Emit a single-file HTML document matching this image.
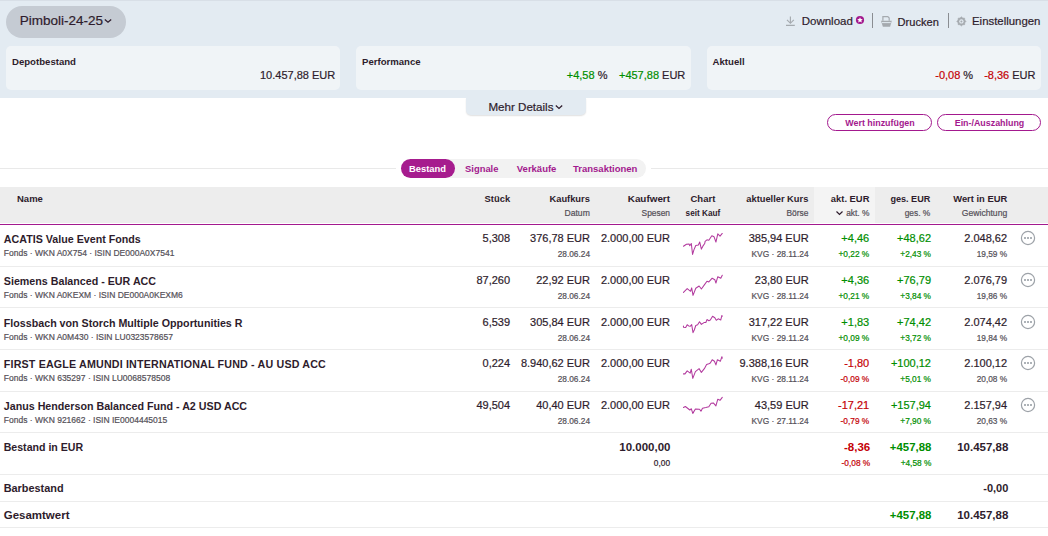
<!DOCTYPE html>
<html><head><meta charset="utf-8"><style>
html,body{margin:0;padding:0;width:1048px;height:536px;overflow:hidden;background:#fff;}
body{position:relative;font-family:"Liberation Sans",sans-serif;}
.t{position:absolute;white-space:pre;line-height:normal;}
.r{position:absolute;}
</style></head><body>
<div class="r" style="left:0px;top:0px;width:1048px;height:98px;background:#e3ebf2;"></div>
<div class="r" style="left:0px;top:0px;width:1048px;height:1px;background:#d8dfe7;"></div>
<div class="r" style="left:6px;top:6px;width:120px;height:32px;background:#c5cbd3;border-radius:16px;"></div>
<div class="t" style="top:13px;font-size:13.5px;font-weight:400;color:#2e1c2c;-webkit-text-stroke:0.2px currentColor;left:19.7px;">Pimboli-24-25</div>
<svg class="r" style="left:102.5px;top:17px" width="10" height="8" viewBox="0 0 10 8"><path d="M1.8 2.4 L5 5.2 L8.2 2.4" fill="none" stroke="#2e1c2c" stroke-width="1.3"/></svg>
<svg class="r" style="left:780px;top:12px" width="20" height="18" viewBox="0 0 20 18"><path d="M10.4 4.6 V11.2 M7 7.9 L10.4 11.3 L13.8 7.9 M6 13.4 H14.8" fill="none" stroke="#a5aaaf" stroke-width="1.15"/></svg>
<div class="t" style="top:15px;font-size:11.5px;font-weight:400;color:#2e1c2c;-webkit-text-stroke:0.2px currentColor;left:801.7px;">Download</div>
<svg class="r" style="left:855px;top:15px" width="10" height="10" viewBox="0 0 10 10"><circle cx="5" cy="5" r="4.1" fill="#a3198e"/><path d="M5 2.2 L5.8 4.1 L7.8 4.2 L6.3 5.5 L6.8 7.5 L5 6.4 L3.2 7.5 L3.7 5.5 L2.2 4.2 L4.2 4.1 Z" fill="#fff"/></svg>
<div class="r" style="left:872px;top:13px;width:1px;height:15px;background:#8a8d92;"></div>
<svg class="r" style="left:876px;top:12px" width="20" height="18" viewBox="0 0 20 18"><path d="M6.9 8.8 V4.6 H11.8 L13.2 6 V8.8" fill="none" stroke="#a5aaaf" stroke-width="1.2"/><path d="M5 8.8 H15.8 L14.1 14.7 H6.9 Z" fill="#a5aaaf"/><rect x="6" y="10.1" width="8.8" height="1" fill="#e3ebf2"/></svg>
<div class="t" style="top:16px;font-size:11.1px;font-weight:400;color:#2e1c2c;-webkit-text-stroke:0.2px currentColor;left:897.6px;">Drucken</div>
<div class="r" style="left:948px;top:13px;width:1px;height:15px;background:#8a8d92;"></div>
<svg class="r" style="left:952px;top:12px" width="20" height="18" viewBox="0 0 20 18"><polygon points="9.40,4.80 10.78,6.07 12.65,6.15 12.73,8.02 14.00,9.40 12.73,10.78 12.65,12.65 10.78,12.73 9.40,14.00 8.02,12.73 6.15,12.65 6.07,10.78 4.80,9.40 6.07,8.02 6.15,6.15 8.02,6.07" fill="#a5aaaf" stroke="#a5aaaf" stroke-width="0.6" stroke-linejoin="round"/><circle cx="9.4" cy="9.4" r="2.2" fill="#e3ebf2"/><circle cx="9.4" cy="9.4" r="1" fill="#a5aaaf"/></svg>
<div class="t" style="top:15px;font-size:11.4px;font-weight:400;color:#2e1c2c;-webkit-text-stroke:0.2px currentColor;left:972px;">Einstellungen</div>
<div class="r" style="left:6px;top:46px;width:334px;height:44px;background:#f0f4f7;border-radius:5px;"></div>
<div class="r" style="left:356px;top:46px;width:335px;height:44px;background:#f0f4f7;border-radius:5px;"></div>
<div class="r" style="left:707px;top:46px;width:334px;height:44px;background:#f0f4f7;border-radius:5px;"></div>
<div class="t" style="top:56px;font-size:9.6px;font-weight:700;color:#2e1c2c;left:12px;">Depotbestand</div>
<div class="t" style="top:69px;font-size:11px;font-weight:400;color:#2e1c2c;-webkit-text-stroke:0.2px currentColor;right:712.8px;">10.457,88 EUR</div>
<div class="t" style="top:56px;font-size:9.6px;font-weight:700;color:#2e1c2c;left:362px;">Performance</div>
<div class="t" style="top:69px;right:362.70000000000005px;font-size:11px;color:#2e1c2c;-webkit-text-stroke:0.2px currentColor"><span style="color:#008e00">+4,58</span> %<span style="display:inline-block;width:11.5px"></span><span style="color:#008e00">+457,88</span> EUR</div>
<div class="t" style="top:56px;font-size:9.6px;font-weight:700;color:#2e1c2c;left:712.6px;">Aktuell</div>
<div class="t" style="top:69px;right:12.5px;font-size:11px;color:#2e1c2c;-webkit-text-stroke:0.2px currentColor"><span style="color:#c40006">-0,08</span> %<span style="display:inline-block;width:11px"></span><span style="color:#c40006">-8,36</span> EUR</div>
<div class="r" style="left:466px;top:98px;width:120px;height:17px;background:#e3ebf2;border-radius:0 0 5px 5px;box-shadow:0 1px 1.5px rgba(0,0,0,0.12);"></div>
<div class="t" style="top:100px;font-size:11.6px;font-weight:400;color:#2e1c2c;-webkit-text-stroke:0.2px currentColor;left:488.4px;">Mehr Details</div>
<svg class="r" style="left:554.3px;top:103px" width="10" height="8" viewBox="0 0 10 8"><path d="M1.8 2.6 L5 5.4 L8.2 2.6" fill="none" stroke="#2e1c2c" stroke-width="1.3"/></svg>
<div class="r" style="left:827px;top:113.7px;width:103px;height:15.3px;border:1.5px solid #a3198e;border-radius:10px;"></div>
<div class="t" style="top:118px;font-size:8.9px;font-weight:700;color:#a3198e;left:680.0px;width:400px;text-align:center;">Wert hinzufügen</div>
<div class="r" style="left:937px;top:113.7px;width:102px;height:15.3px;border:1.5px solid #a3198e;border-radius:10px;"></div>
<div class="t" style="top:118px;font-size:8.9px;font-weight:700;color:#a3198e;left:789.5px;width:400px;text-align:center;">Ein-/Auszahlung</div>
<div class="r" style="left:0px;top:168px;width:396px;height:1px;background:#e9e9e9;"></div>
<div class="r" style="left:651px;top:168px;width:397px;height:1px;background:#e9e9e9;"></div>
<div class="r" style="left:401px;top:159px;width:245px;height:19px;background:#f2f2f2;border-radius:9.5px;"></div>
<div class="r" style="left:401px;top:159px;width:54px;height:19px;background:#a61c8e;border-radius:9.5px;"></div>
<div class="t" style="top:163px;font-size:9.4px;font-weight:700;color:#fff;left:227.5px;width:400px;text-align:center;">Bestand</div>
<div class="t" style="top:163px;font-size:9.4px;font-weight:700;color:#a3198e;left:465.1px;">Signale</div>
<div class="t" style="top:163px;font-size:9.5px;font-weight:700;color:#a3198e;left:516.8px;">Verkäufe</div>
<div class="t" style="top:163px;font-size:9.5px;font-weight:700;color:#a3198e;left:573px;">Transaktionen</div>
<div class="r" style="left:0px;top:187px;width:1048px;height:36px;background:#ededed;"></div>
<div class="r" style="left:814px;top:187px;width:61px;height:36px;background:#f4f4f4;"></div>
<div class="r" style="left:0px;top:224px;width:1048px;height:1px;background:#a3198e;"></div>
<div class="t" style="top:193px;font-size:9.5px;font-weight:700;color:#2e1c2c;left:17px;">Name</div>
<div class="t" style="top:193px;font-size:9.4px;font-weight:700;color:#2e1c2c;right:537.9px;">Stück</div>
<div class="t" style="top:194px;font-size:9.3px;font-weight:700;color:#2e1c2c;right:458.20000000000005px;">Kaufkurs</div>
<div class="t" style="top:208px;font-size:8.6px;font-weight:400;color:#545058;-webkit-text-stroke:0.2px currentColor;right:458.20000000000005px;">Datum</div>
<div class="t" style="top:193px;font-size:9.9px;font-weight:700;color:#2e1c2c;right:378px;">Kaufwert</div>
<div class="t" style="top:208px;font-size:8.4px;font-weight:400;color:#545058;-webkit-text-stroke:0.2px currentColor;right:378px;">Spesen</div>
<div class="t" style="top:193px;font-size:9.5px;font-weight:700;color:#2e1c2c;left:502.9px;width:400px;text-align:center;">Chart</div>
<div class="t" style="top:209px;font-size:8.2px;font-weight:700;color:#2e1c2c;left:502.9px;width:400px;text-align:center;">seit Kauf</div>
<div class="t" style="top:194px;font-size:9.3px;font-weight:700;color:#2e1c2c;right:239.70000000000005px;">aktueller Kurs</div>
<div class="t" style="top:208px;font-size:8.4px;font-weight:400;color:#545058;-webkit-text-stroke:0.2px currentColor;right:239.70000000000005px;">Börse</div>
<div class="t" style="top:193px;font-size:9.4px;font-weight:700;color:#2e1c2c;right:178.60000000000002px;">akt. EUR</div>
<div class="t" style="top:208px;font-size:8.4px;font-weight:400;color:#545058;-webkit-text-stroke:0.2px currentColor;right:178.60000000000002px;">akt. %</div>
<svg class="r" style="left:835px;top:210px" width="9" height="7" viewBox="0 0 9 7"><path d="M1.5 1.5 L4.5 4.5 L7.5 1.5" fill="none" stroke="#2e1c2c" stroke-width="1.2"/></svg>
<div class="t" style="top:194px;font-size:9.1px;font-weight:700;color:#2e1c2c;right:117.70000000000005px;">ges. EUR</div>
<div class="t" style="top:208px;font-size:8.4px;font-weight:400;color:#545058;-webkit-text-stroke:0.2px currentColor;right:117.70000000000005px;">ges. %</div>
<div class="t" style="top:193px;font-size:9.4px;font-weight:700;color:#2e1c2c;right:40.799999999999955px;">Wert in EUR</div>
<div class="t" style="top:208px;font-size:8.6px;font-weight:400;color:#545058;-webkit-text-stroke:0.2px currentColor;right:40.799999999999955px;">Gewichtung</div>
<div class="r" style="left:0px;top:266px;width:1048px;height:1px;background:#ececec;"></div>
<div class="r" style="left:0px;top:307px;width:1048px;height:1px;background:#ececec;"></div>
<div class="r" style="left:0px;top:349px;width:1048px;height:1px;background:#ececec;"></div>
<div class="r" style="left:0px;top:391px;width:1048px;height:1px;background:#ececec;"></div>
<div class="r" style="left:0px;top:432px;width:1048px;height:1px;background:#ececec;"></div>
<div class="r" style="left:0px;top:474px;width:1048px;height:1px;background:#ececec;"></div>
<div class="r" style="left:0px;top:501px;width:1048px;height:1px;background:#ececec;"></div>
<div class="r" style="left:0px;top:527px;width:1048px;height:1px;background:#ececec;"></div>
<div class="t" style="top:233px;font-size:10.7px;font-weight:700;color:#2e1c2c;left:3.8px;">ACATIS Value Event Fonds</div>
<div class="t" style="top:248px;font-size:8.5px;font-weight:400;color:#545058;-webkit-text-stroke:0.2px currentColor;left:3.8px;">Fonds · WKN A0X754 · ISIN DE000A0X7541</div>
<div class="t" style="top:232px;font-size:11px;font-weight:400;color:#2e1c2c;-webkit-text-stroke:0.2px currentColor;right:537.9px;">5,308</div>
<div class="t" style="top:232px;font-size:11px;font-weight:400;color:#2e1c2c;-webkit-text-stroke:0.2px currentColor;right:458px;">376,78 EUR</div>
<div class="t" style="top:249px;font-size:8.3px;font-weight:400;color:#545058;-webkit-text-stroke:0.2px currentColor;right:458px;">28.06.24</div>
<div class="t" style="top:232px;font-size:11px;font-weight:400;color:#2e1c2c;-webkit-text-stroke:0.2px currentColor;right:378px;">2.000,00 EUR</div>
<div class="t" style="top:232px;font-size:11px;font-weight:400;color:#2e1c2c;-webkit-text-stroke:0.2px currentColor;right:239.39999999999998px;">385,94 EUR</div>
<div class="t" style="top:249px;font-size:8.4px;font-weight:400;color:#545058;-webkit-text-stroke:0.2px currentColor;right:239.39999999999998px;">KVG · 28.11.24</div>
<div class="t" style="top:232px;font-size:11px;font-weight:400;color:#008e00;-webkit-text-stroke:0.2px currentColor;right:178.79999999999995px;">+4,46</div>
<div class="t" style="top:249px;font-size:8.3px;font-weight:400;color:#008e00;-webkit-text-stroke:0.2px currentColor;right:178.79999999999995px;">+0,22 %</div>
<div class="t" style="top:232px;font-size:11px;font-weight:400;color:#008e00;-webkit-text-stroke:0.2px currentColor;right:117px;">+48,62</div>
<div class="t" style="top:249px;font-size:8.3px;font-weight:400;color:#008e00;-webkit-text-stroke:0.2px currentColor;right:117px;">+2,43 %</div>
<div class="t" style="top:232px;font-size:11px;font-weight:400;color:#2e1c2c;-webkit-text-stroke:0.2px currentColor;right:40.89999999999998px;">2.048,62</div>
<div class="t" style="top:249px;font-size:8.3px;font-weight:400;color:#545058;-webkit-text-stroke:0.2px currentColor;right:40.89999999999998px;">19,59 %</div>
<svg class="r" style="left:676px;top:226px" width="60" height="40" viewBox="0 0 804 536"><polyline points="100,272 140,245 175,240 185,265 205,235 222,380 240,320 265,262 300,255 318,215 340,310 360,270 385,235 390,205 415,185 440,190 480,130 510,145 535,215 560,105 590,135 620,100" fill="none" stroke="#b23a9e" stroke-width="14" stroke-linejoin="round" stroke-linecap="round"/></svg>
<svg class="r" style="left:1020px;top:230.00px" width="16" height="16" viewBox="0 0 16 16"><circle cx="8" cy="8" r="6.6" fill="none" stroke="#9da2a8" stroke-width="1.2"/><rect x="4" y="7" width="2" height="2" fill="#aeb3b8"/><rect x="7" y="7" width="2" height="2" fill="#aeb3b8"/><rect x="10" y="7" width="2" height="2" fill="#aeb3b8"/></svg>
<div class="t" style="top:275px;font-size:10.7px;font-weight:700;color:#2e1c2c;left:3.8px;">Siemens Balanced - EUR ACC</div>
<div class="t" style="top:290px;font-size:8.5px;font-weight:400;color:#545058;-webkit-text-stroke:0.2px currentColor;left:3.8px;">Fonds · WKN A0KEXM · ISIN DE000A0KEXM6</div>
<div class="t" style="top:274px;font-size:11px;font-weight:400;color:#2e1c2c;-webkit-text-stroke:0.2px currentColor;right:537.9px;">87,260</div>
<div class="t" style="top:274px;font-size:11px;font-weight:400;color:#2e1c2c;-webkit-text-stroke:0.2px currentColor;right:458px;">22,92 EUR</div>
<div class="t" style="top:291px;font-size:8.3px;font-weight:400;color:#545058;-webkit-text-stroke:0.2px currentColor;right:458px;">28.06.24</div>
<div class="t" style="top:274px;font-size:11px;font-weight:400;color:#2e1c2c;-webkit-text-stroke:0.2px currentColor;right:378px;">2.000,00 EUR</div>
<div class="t" style="top:274px;font-size:11px;font-weight:400;color:#2e1c2c;-webkit-text-stroke:0.2px currentColor;right:239.39999999999998px;">23,80 EUR</div>
<div class="t" style="top:291px;font-size:8.4px;font-weight:400;color:#545058;-webkit-text-stroke:0.2px currentColor;right:239.39999999999998px;">KVG · 28.11.24</div>
<div class="t" style="top:274px;font-size:11px;font-weight:400;color:#008e00;-webkit-text-stroke:0.2px currentColor;right:178.79999999999995px;">+4,36</div>
<div class="t" style="top:291px;font-size:8.3px;font-weight:400;color:#008e00;-webkit-text-stroke:0.2px currentColor;right:178.79999999999995px;">+0,21 %</div>
<div class="t" style="top:274px;font-size:11px;font-weight:400;color:#008e00;-webkit-text-stroke:0.2px currentColor;right:117px;">+76,79</div>
<div class="t" style="top:291px;font-size:8.3px;font-weight:400;color:#008e00;-webkit-text-stroke:0.2px currentColor;right:117px;">+3,84 %</div>
<div class="t" style="top:274px;font-size:11px;font-weight:400;color:#2e1c2c;-webkit-text-stroke:0.2px currentColor;right:40.89999999999998px;">2.076,79</div>
<div class="t" style="top:291px;font-size:8.3px;font-weight:400;color:#545058;-webkit-text-stroke:0.2px currentColor;right:40.89999999999998px;">19,86 %</div>
<svg class="r" style="left:676px;top:267px" width="60" height="40" viewBox="0 0 804 536"><polyline points="100,340 150,290 175,310 195,325 210,280 228,380 265,285 310,255 340,295 380,240 415,190 440,200 485,150 520,170 535,215 560,130 600,150 620,110" fill="none" stroke="#b23a9e" stroke-width="14" stroke-linejoin="round" stroke-linecap="round"/></svg>
<svg class="r" style="left:1020px;top:272.00px" width="16" height="16" viewBox="0 0 16 16"><circle cx="8" cy="8" r="6.6" fill="none" stroke="#9da2a8" stroke-width="1.2"/><rect x="4" y="7" width="2" height="2" fill="#aeb3b8"/><rect x="7" y="7" width="2" height="2" fill="#aeb3b8"/><rect x="10" y="7" width="2" height="2" fill="#aeb3b8"/></svg>
<div class="t" style="top:317px;font-size:10.7px;font-weight:700;color:#2e1c2c;left:3.8px;">Flossbach von Storch Multiple Opportunities R</div>
<div class="t" style="top:332px;font-size:8.5px;font-weight:400;color:#545058;-webkit-text-stroke:0.2px currentColor;left:3.8px;">Fonds · WKN A0M430 · ISIN LU0323578657</div>
<div class="t" style="top:316px;font-size:11px;font-weight:400;color:#2e1c2c;-webkit-text-stroke:0.2px currentColor;right:537.9px;">6,539</div>
<div class="t" style="top:316px;font-size:11px;font-weight:400;color:#2e1c2c;-webkit-text-stroke:0.2px currentColor;right:458px;">305,84 EUR</div>
<div class="t" style="top:333px;font-size:8.3px;font-weight:400;color:#545058;-webkit-text-stroke:0.2px currentColor;right:458px;">28.06.24</div>
<div class="t" style="top:316px;font-size:11px;font-weight:400;color:#2e1c2c;-webkit-text-stroke:0.2px currentColor;right:378px;">2.000,00 EUR</div>
<div class="t" style="top:316px;font-size:11px;font-weight:400;color:#2e1c2c;-webkit-text-stroke:0.2px currentColor;right:239.39999999999998px;">317,22 EUR</div>
<div class="t" style="top:333px;font-size:8.4px;font-weight:400;color:#545058;-webkit-text-stroke:0.2px currentColor;right:239.39999999999998px;">KVG · 29.11.24</div>
<div class="t" style="top:316px;font-size:11px;font-weight:400;color:#008e00;-webkit-text-stroke:0.2px currentColor;right:178.79999999999995px;">+1,83</div>
<div class="t" style="top:333px;font-size:8.3px;font-weight:400;color:#008e00;-webkit-text-stroke:0.2px currentColor;right:178.79999999999995px;">+0,09 %</div>
<div class="t" style="top:316px;font-size:11px;font-weight:400;color:#008e00;-webkit-text-stroke:0.2px currentColor;right:117px;">+74,42</div>
<div class="t" style="top:333px;font-size:8.3px;font-weight:400;color:#008e00;-webkit-text-stroke:0.2px currentColor;right:117px;">+3,72 %</div>
<div class="t" style="top:316px;font-size:11px;font-weight:400;color:#2e1c2c;-webkit-text-stroke:0.2px currentColor;right:40.89999999999998px;">2.074,42</div>
<div class="t" style="top:333px;font-size:8.3px;font-weight:400;color:#545058;-webkit-text-stroke:0.2px currentColor;right:40.89999999999998px;">19,84 %</div>
<svg class="r" style="left:676px;top:308px" width="60" height="40" viewBox="0 0 804 536"><polyline points="100,240 100,258 130,262 150,225 170,240 190,245 210,222 228,330 245,295 265,235 290,225 315,185 340,220 375,195 400,195 415,155 440,170 460,160 490,110 520,130 540,165 565,145 600,160 615,100 620,110" fill="none" stroke="#b23a9e" stroke-width="14" stroke-linejoin="round" stroke-linecap="round"/></svg>
<svg class="r" style="left:1020px;top:314.00px" width="16" height="16" viewBox="0 0 16 16"><circle cx="8" cy="8" r="6.6" fill="none" stroke="#9da2a8" stroke-width="1.2"/><rect x="4" y="7" width="2" height="2" fill="#aeb3b8"/><rect x="7" y="7" width="2" height="2" fill="#aeb3b8"/><rect x="10" y="7" width="2" height="2" fill="#aeb3b8"/></svg>
<div class="t" style="top:358px;font-size:10.7px;font-weight:700;color:#2e1c2c;left:3.8px;letter-spacing:0.17px;">FIRST EAGLE AMUNDI INTERNATIONAL FUND - AU USD ACC</div>
<div class="t" style="top:373px;font-size:8.5px;font-weight:400;color:#545058;-webkit-text-stroke:0.2px currentColor;left:3.8px;">Fonds · WKN 635297 · ISIN LU0068578508</div>
<div class="t" style="top:357px;font-size:11px;font-weight:400;color:#2e1c2c;-webkit-text-stroke:0.2px currentColor;right:537.9px;">0,224</div>
<div class="t" style="top:357px;font-size:11px;font-weight:400;color:#2e1c2c;-webkit-text-stroke:0.2px currentColor;right:458px;">8.940,62 EUR</div>
<div class="t" style="top:374px;font-size:8.3px;font-weight:400;color:#545058;-webkit-text-stroke:0.2px currentColor;right:458px;">28.06.24</div>
<div class="t" style="top:357px;font-size:11px;font-weight:400;color:#2e1c2c;-webkit-text-stroke:0.2px currentColor;right:378px;">2.000,00 EUR</div>
<div class="t" style="top:357px;font-size:11px;font-weight:400;color:#2e1c2c;-webkit-text-stroke:0.2px currentColor;right:239.39999999999998px;">9.388,16 EUR</div>
<div class="t" style="top:374px;font-size:8.4px;font-weight:400;color:#545058;-webkit-text-stroke:0.2px currentColor;right:239.39999999999998px;">KVG · 28.11.24</div>
<div class="t" style="top:357px;font-size:11px;font-weight:400;color:#c40006;-webkit-text-stroke:0.2px currentColor;right:178.79999999999995px;">-1,80</div>
<div class="t" style="top:374px;font-size:8.3px;font-weight:400;color:#c40006;-webkit-text-stroke:0.2px currentColor;right:178.79999999999995px;">-0,09 %</div>
<div class="t" style="top:357px;font-size:11px;font-weight:400;color:#008e00;-webkit-text-stroke:0.2px currentColor;right:117px;">+100,12</div>
<div class="t" style="top:374px;font-size:8.3px;font-weight:400;color:#008e00;-webkit-text-stroke:0.2px currentColor;right:117px;">+5,01 %</div>
<div class="t" style="top:357px;font-size:11px;font-weight:400;color:#2e1c2c;-webkit-text-stroke:0.2px currentColor;right:40.89999999999998px;">2.100,12</div>
<div class="t" style="top:374px;font-size:8.3px;font-weight:400;color:#545058;-webkit-text-stroke:0.2px currentColor;right:40.89999999999998px;">20,08 %</div>
<svg class="r" style="left:676px;top:350px" width="60" height="40" viewBox="0 0 804 536"><polyline points="100,320 120,320 150,280 190,310 205,258 225,380 260,290 310,250 340,300 380,250 410,195 440,185 460,175 485,130 515,150 535,200 555,130 595,150 615,90 620,110" fill="none" stroke="#b23a9e" stroke-width="14" stroke-linejoin="round" stroke-linecap="round"/></svg>
<svg class="r" style="left:1020px;top:355.00px" width="16" height="16" viewBox="0 0 16 16"><circle cx="8" cy="8" r="6.6" fill="none" stroke="#9da2a8" stroke-width="1.2"/><rect x="4" y="7" width="2" height="2" fill="#aeb3b8"/><rect x="7" y="7" width="2" height="2" fill="#aeb3b8"/><rect x="10" y="7" width="2" height="2" fill="#aeb3b8"/></svg>
<div class="t" style="top:400px;font-size:10.7px;font-weight:700;color:#2e1c2c;left:3.8px;">Janus Henderson Balanced Fund - A2 USD ACC</div>
<div class="t" style="top:415px;font-size:8.5px;font-weight:400;color:#545058;-webkit-text-stroke:0.2px currentColor;left:3.8px;">Fonds · WKN 921662 · ISIN IE0004445015</div>
<div class="t" style="top:399px;font-size:11px;font-weight:400;color:#2e1c2c;-webkit-text-stroke:0.2px currentColor;right:537.9px;">49,504</div>
<div class="t" style="top:399px;font-size:11px;font-weight:400;color:#2e1c2c;-webkit-text-stroke:0.2px currentColor;right:458px;">40,40 EUR</div>
<div class="t" style="top:416px;font-size:8.3px;font-weight:400;color:#545058;-webkit-text-stroke:0.2px currentColor;right:458px;">28.06.24</div>
<div class="t" style="top:399px;font-size:11px;font-weight:400;color:#2e1c2c;-webkit-text-stroke:0.2px currentColor;right:378px;">2.000,00 EUR</div>
<div class="t" style="top:399px;font-size:11px;font-weight:400;color:#2e1c2c;-webkit-text-stroke:0.2px currentColor;right:239.39999999999998px;">43,59 EUR</div>
<div class="t" style="top:416px;font-size:8.4px;font-weight:400;color:#545058;-webkit-text-stroke:0.2px currentColor;right:239.39999999999998px;">KVG · 27.11.24</div>
<div class="t" style="top:399px;font-size:11px;font-weight:400;color:#c40006;-webkit-text-stroke:0.2px currentColor;right:178.79999999999995px;">-17,21</div>
<div class="t" style="top:416px;font-size:8.3px;font-weight:400;color:#c40006;-webkit-text-stroke:0.2px currentColor;right:178.79999999999995px;">-0,79 %</div>
<div class="t" style="top:399px;font-size:11px;font-weight:400;color:#008e00;-webkit-text-stroke:0.2px currentColor;right:117px;">+157,94</div>
<div class="t" style="top:416px;font-size:8.3px;font-weight:400;color:#008e00;-webkit-text-stroke:0.2px currentColor;right:117px;">+7,90 %</div>
<div class="t" style="top:399px;font-size:11px;font-weight:400;color:#2e1c2c;-webkit-text-stroke:0.2px currentColor;right:40.89999999999998px;">2.157,94</div>
<div class="t" style="top:416px;font-size:8.3px;font-weight:400;color:#545058;-webkit-text-stroke:0.2px currentColor;right:40.89999999999998px;">20,63 %</div>
<svg class="r" style="left:676px;top:391px" width="60" height="40" viewBox="0 0 804 536"><polyline points="100,220 125,208 160,235 185,255 205,238 225,300 260,240 315,245 335,270 355,230 400,220 440,210 470,165 500,160 535,200 560,110 590,125 620,85" fill="none" stroke="#b23a9e" stroke-width="14" stroke-linejoin="round" stroke-linecap="round"/></svg>
<svg class="r" style="left:1020px;top:397.00px" width="16" height="16" viewBox="0 0 16 16"><circle cx="8" cy="8" r="6.6" fill="none" stroke="#9da2a8" stroke-width="1.2"/><rect x="4" y="7" width="2" height="2" fill="#aeb3b8"/><rect x="7" y="7" width="2" height="2" fill="#aeb3b8"/><rect x="10" y="7" width="2" height="2" fill="#aeb3b8"/></svg>
<div class="t" style="top:441px;font-size:10.6px;font-weight:700;color:#2e1c2c;left:3.7px;">Bestand in EUR</div>
<div class="t" style="top:441px;font-size:11.5px;font-weight:700;color:#2e1c2c;right:377.5px;">10.000,00</div>
<div class="t" style="top:458px;font-size:8.3px;font-weight:400;color:#2e1c2c;-webkit-text-stroke:0.2px currentColor;right:378px;">0,00</div>
<div class="t" style="top:441px;font-size:11.5px;font-weight:700;color:#c40006;right:177.79999999999995px;">-8,36</div>
<div class="t" style="top:458px;font-size:8.3px;font-weight:400;color:#c40006;-webkit-text-stroke:0.2px currentColor;right:177.79999999999995px;">-0,08 %</div>
<div class="t" style="top:441px;font-size:11.4px;font-weight:700;color:#008e00;right:116.70000000000005px;">+457,88</div>
<div class="t" style="top:458px;font-size:8.3px;font-weight:400;color:#008e00;-webkit-text-stroke:0.2px currentColor;right:116.70000000000005px;">+4,58 %</div>
<div class="t" style="top:441px;font-size:11.5px;font-weight:700;color:#2e1c2c;right:39.700000000000045px;">10.457,88</div>
<div class="t" style="top:482px;font-size:10.9px;font-weight:700;color:#2e1c2c;left:3.7px;">Barbestand</div>
<div class="t" style="top:482px;font-size:11px;font-weight:700;color:#2e1c2c;right:39.700000000000045px;">-0,00</div>
<div class="t" style="top:509px;font-size:11.5px;font-weight:700;color:#2e1c2c;left:3.7px;">Gesamtwert</div>
<div class="t" style="top:509px;font-size:11.4px;font-weight:700;color:#008e00;right:116.70000000000005px;">+457,88</div>
<div class="t" style="top:509px;font-size:11.5px;font-weight:700;color:#2e1c2c;right:39.700000000000045px;">10.457,88</div>
</body></html>
